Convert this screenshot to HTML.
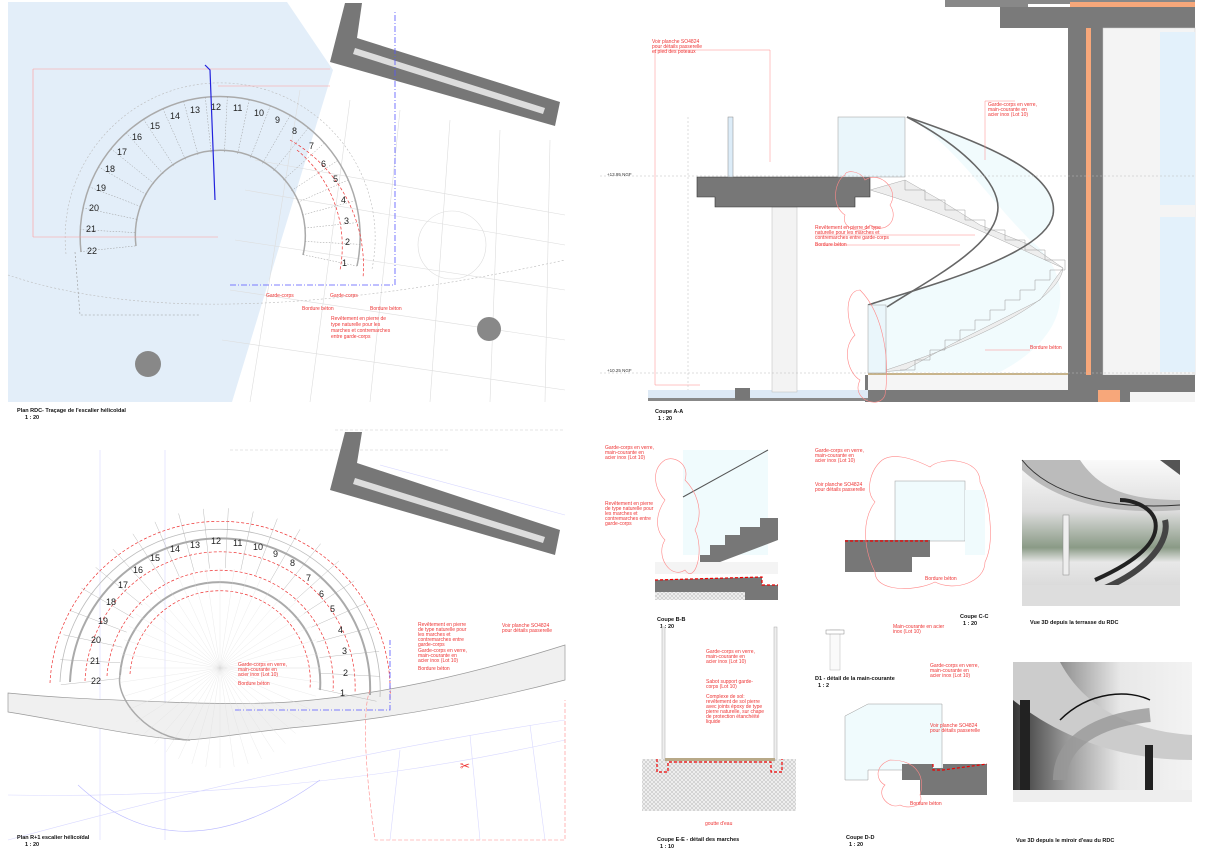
<!DOCTYPE html>
<html><head><meta charset="utf-8"><style>
html,body{margin:0;padding:0;background:#fff;}
svg{display:block;font-family:"Liberation Sans",sans-serif;}
.t{font-size:5px;fill:#e33;}
.n{font-size:9px;fill:#222;}
.cap{font-size:5.5px;font-weight:bold;fill:#111;}
</style></head><body>
<svg id="s" width="1207" height="863" viewBox="0 0 1207 863" xmlns="http://www.w3.org/2000/svg">
<defs>
<pattern id="hat" width="4" height="4" patternUnits="userSpaceOnUse"><rect width="4" height="4" fill="#eee"/><path d="M0 4L4 0M0 0L4 4" stroke="#bbb" stroke-width="0.5"/></pattern>
<linearGradient id="r1" x1="0" y1="0" x2="0" y2="1"><stop offset="0" stop-color="#fafafa"/><stop offset="0.35" stop-color="#ddd"/><stop offset="0.6" stop-color="#8a9a86"/><stop offset="0.7" stop-color="#e8e8e8"/><stop offset="1" stop-color="#cfcfcf"/></linearGradient>
<linearGradient id="r2" x1="0" y1="0" x2="1" y2="0"><stop offset="0" stop-color="#333"/><stop offset="0.3" stop-color="#999"/><stop offset="0.6" stop-color="#e8e8e8"/><stop offset="1" stop-color="#f3f3f3"/></linearGradient>
</defs>

<!-- ===== TOP LEFT PLAN ===== -->
<polygon points="8,2 287,2 333,70 232,402 8,402" fill="#e3eef9"/>
<g stroke="#ddd" stroke-width="0.6" fill="none">
<path d="M255,160 L565,215 M245,190 L565,245 M235,240 L565,290 M230,290 L565,340 M222,340 L565,390"/>
<path d="M300,90 L250,402 M350,100 L310,402 M400,110 L370,402 M450,120 L430,402 M500,130 L490,402 M550,140 L545,402"/>
</g>
<polygon points="345,3 362,3 357,38 560,102 555,126 330,62" fill="#777"/>
<polygon points="355,48 545,108 543,114 353,54" fill="#ddd"/>
<circle cx="148" cy="364" r="13" fill="#888"/>
<circle cx="489" cy="329" r="12" fill="#888"/>
<circle cx="452" cy="245" r="34" fill="none" stroke="#ddd" stroke-width="0.6"/>
<path d="M8,275 Q200,340 565,260" stroke="#bbb" stroke-dasharray="2,2" fill="none" stroke-width="0.6"/>
<g fill="none">
<path d="M81,252 A140 140 0 1 1 357,266" stroke="#aaa" stroke-width="1.5"/>
<path d="M66,254 A155 155 0 1 1 372,269" stroke="#bbb" stroke-dasharray="2,2" stroke-width="0.6"/>
<path d="M136,246 A85 85 0 1 1 303,255" stroke="#aaa" stroke-width="1.5"/>
<path d="M75,252 L80,315 L200,315" stroke="#999" stroke-dasharray="2,2" stroke-width="0.6"/>
<path d="M297,150 A125 125 0 0 1 340,270 M290,140 A145 145 0 0 1 363,278" stroke="#e33" stroke-dasharray="3,2" stroke-width="0.7"/>
<path d="M33,69 L330,69 M33,69 L33,237 M33,237 L218,237 M218,86 L330,86" stroke="#f99" stroke-width="0.6"/>
<path d="M230,285 L395,285 L395,10" stroke="#55f" stroke-dasharray="6,2,1,2" stroke-width="0.8"/>
<path d="M205,65 L210,70 L215,200" stroke="#22d" stroke-width="1.2"/>
</g>
<g id="rad1" stroke="#999" stroke-width="0.5" stroke-dasharray="1.5,1.5"></g>
<g class="n">
<text x="211" y="110">12</text><text x="233" y="111">11</text><text x="254" y="116">10</text><text x="275" y="123">9</text><text x="292" y="134">8</text><text x="309" y="149">7</text><text x="321" y="167">6</text><text x="333" y="182">5</text><text x="341" y="203">4</text><text x="344" y="224">3</text><text x="345" y="245">2</text><text x="342" y="266">1</text>
<text x="190" y="113">13</text><text x="170" y="119">14</text><text x="150" y="129">15</text><text x="132" y="140">16</text><text x="117" y="155">17</text><text x="105" y="172">18</text><text x="96" y="191">19</text><text x="89" y="211">20</text><text x="86" y="232">21</text><text x="87" y="254">22</text>
</g>
<g class="t"><text x="266" y="297">Garde-corps</text><text x="330" y="297">Garde-corps</text><text x="302" y="310">Bordure béton</text><text x="370" y="310">Bordure béton</text><text x="331" y="320">Revêtement en pierre de</text><text x="331" y="326">type naturelle pour les</text><text x="331" y="332">marches et contremarches</text><text x="331" y="338">entre garde-corps</text></g>
<text class="cap" x="17" y="412">Plan RDC- Traçage de l'escalier hélicoïdal</text>
<text class="cap" x="25" y="419">1 : 20</text>

<!-- ===== TOP RIGHT SECTION ===== -->
<rect x="945" y="0" width="250" height="7" fill="#888"/>
<rect x="1070" y="2" width="125" height="6" fill="#f7a77a"/>
<rect x="1000" y="7" width="195" height="21" fill="#7a7a7a"/>
<rect x="1028" y="4" width="42" height="3" fill="#fff"/>
<rect x="1068" y="28" width="35" height="372" fill="#7a7a7a"/>
<rect x="1086" y="28" width="5" height="348" fill="#f7a77a"/>
<rect x="1103" y="28" width="92" height="347" fill="#f4f4f4" stroke="#ccc" stroke-width="0.5"/>
<rect x="1160" y="32" width="35" height="340" fill="#e3f1fb"/>
<rect x="1160" y="205" width="35" height="12" fill="#f4f4f4"/>
<rect x="865" y="375" width="330" height="27" fill="#7a7a7a"/>
<rect x="868" y="373" width="200" height="2" fill="#c8b48a"/>
<rect x="868" y="375" width="200" height="15" fill="#f5f5f5"/>
<rect x="1098" y="390" width="22" height="12" fill="#f7a77a"/>
<rect x="1130" y="392" width="65" height="10" fill="#f4f4f4"/>
<rect x="648" y="390" width="220" height="10" fill="#dde9f5"/>
<rect x="648" y="398" width="220" height="3" fill="#888"/>
<rect x="735" y="388" width="15" height="12" fill="#777"/>
<rect x="772" y="207" width="25" height="185" fill="#f3f3f3" stroke="#bbb" stroke-width="0.5"/>
<polygon points="697,177 870,177 870,197 855,197 855,207 715,207 715,197 697,197" fill="#777" stroke="#333" stroke-width="0.6"/>
<rect x="728" y="117" width="5" height="60" fill="#dcecf8" stroke="#888" stroke-width="0.5"/>
<rect x="838" y="117" width="67" height="60" fill="#eaf6fb" stroke="#999" stroke-width="0.5"/>
<path d="M907,117 C990,145 1060,175 1053,215 C1045,255 930,285 868,305 L880,372 L1000,372 C1080,330 1070,270 1030,240 C990,200 950,140 907,117 Z" fill="#f0fbfd" opacity="0.9"/>
<path d="M870,190 L905,180 L940,200 L980,225 L1030,245 L1063,268 L1040,300 L1000,320 L950,345 L905,370 L880,372 C980,340 1060,300 1063,268 C1000,240 940,210 870,190Z" fill="#eee" stroke="#aaa" stroke-width="0.5"/>
<g id="steps" fill="none" stroke="#999" stroke-width="0.5"></g>
<path d="M907,117 C990,145 1060,175 1053,215 C1045,255 930,285 868,305" stroke="#666" stroke-width="1.6" fill="none"/>
<path d="M907,117 C960,145 1005,185 997,215 C990,250 920,285 887,307" stroke="#666" stroke-width="1.6" fill="none"/>
<rect x="868" y="305" width="18" height="68" fill="#eaf6fb" stroke="#999" stroke-width="0.5"/>
<g stroke="#f88" stroke-width="0.5" fill="none">
<path d="M655,50 L655,385 L700,385 M655,50 L770,50 L770,162"/>
<path d="M688,117 L688,390 M600,176 L1195,176 M600,373 L1195,373" stroke-dasharray="2,2" stroke="#bbb"/>
<path d="M985,101 L985,160 M985,101 L1015,101 M985,350 L1030,350 M815,235 L975,235 M815,245 L960,245"/>
</g>
<path d="M845,175 c-10,5 -15,30 0,40 c-5,15 20,20 25,10 c15,10 30,-5 20,-20 c10,-15 -10,-35 -25,-25 c-5,-10 -20,-10 -20,-5Z M860,290 c-15,0 -15,30 -5,45 c-15,15 -5,40 5,45 c-10,20 20,30 25,15 c5,-30 0,-80 -25,-105Z" fill="none" stroke="#f88" stroke-width="0.6"/>
<g class="t"><text x="652" y="43">Voir planche SO4824</text><text x="652" y="48">pour détails passerelle</text><text x="652" y="53">et pied des poteaux</text>
<text x="988" y="106">Garde-corps en verre,</text><text x="988" y="111">main-courante en</text><text x="988" y="116">acier inox (Lot 10)</text>
<text x="815" y="229">Revêtement en pierre de type</text><text x="815" y="234">naturelle pour les marches et</text><text x="815" y="239">contremarches entre garde-corps</text>
<text x="815" y="246">Bordure béton</text><text x="1030" y="349">Bordure béton</text></g>
<text x="607" y="176" font-size="4.5" fill="#333">+13.95 NGF</text><text x="607" y="372" font-size="4.5" fill="#333">+10.25 NGF</text>
<text class="cap" x="655" y="413">Coupe A-A</text><text class="cap" x="658" y="420">1 : 20</text>

<!-- ===== BOTTOM LEFT PLAN ===== -->
<g stroke="#d8d8ff" stroke-width="0.6" fill="none">
<path d="M8,840 Q300,760 565,720 M8,795 Q300,800 565,740 M380,465 L565,515"/>
<path d="M100,450 L100,840 M165,450 L165,840 M400,750 L390,840 M470,735 L480,840 M530,725 L545,840"/>
<path d="M335,430 L565,430 M230,450 L450,450" stroke="#ccc" stroke-dasharray="3,2"/>
</g>
<polygon points="345,432 362,432 357,463 560,530 555,555 330,490" fill="#777"/>
<polygon points="355,478 545,537 543,543 353,484" fill="#ddd"/>
<path d="M8,693 C80,700 130,700 165,702 C190,703 240,705 290,702 C380,695 470,675 565,645 L565,680 C470,705 380,720 290,728 C230,735 200,740 185,740 C140,738 60,720 8,712 Z" fill="#f0f0f0" stroke="#999" stroke-width="0.7"/>
<path d="M78,785 Q180,880 320,780" stroke="#bbf" fill="none" stroke-width="0.6"/>
<g fill="none">
<path d="M70,682 A150 150 0 1 1 370,695" stroke="#aaa" stroke-width="2"/>
<path d="M60,682 A160 160 0 1 1 380,697" stroke="#bbb" stroke-width="0.8"/>
<path d="M50,683 A170 170 0 1 1 390,700" stroke="#e33" stroke-dasharray="3,2" stroke-width="0.7"/>
<path d="M85,681 A135 135 0 1 1 355,693" stroke="#e33" stroke-dasharray="3,2" stroke-width="0.7"/>
<path d="M120,675 A100 100 0 1 1 320,690" stroke="#aaa" stroke-width="2"/>
<path d="M130,674 A90 90 0 1 1 310,688" stroke="#e33" stroke-dasharray="3,2" stroke-width="0.7"/>
<path d="M107,676 A113 113 0 1 1 333,691" stroke="#e33" stroke-dasharray="3,2" stroke-width="0.7"/>
<path d="M120,675 C115,700 150,740 190,740" stroke="#aaa" stroke-width="1.5"/>
<path d="M235,710 L390,710 L390,640" stroke="#55f" stroke-dasharray="6,2,1,2" stroke-width="0.8"/>
<path d="M370,690 c-8,20 -5,80 5,150 L565,840 L565,700" stroke="#f88" stroke-width="0.6" stroke-dasharray="4,2"/>
</g>
<g id="rad2" stroke="#aaa" stroke-width="0.4"></g>
<g id="rad3" stroke="#ddd" stroke-width="0.3"></g>
<g class="n">
<text x="211" y="544">12</text><text x="233" y="546">11</text><text x="253" y="550">10</text><text x="273" y="557">9</text><text x="290" y="566">8</text><text x="306" y="581">7</text><text x="319" y="597">6</text><text x="330" y="612">5</text><text x="338" y="633">4</text><text x="342" y="654">3</text><text x="343" y="676">2</text><text x="340" y="696">1</text>
<text x="190" y="548">13</text><text x="170" y="552">14</text><text x="150" y="561">15</text><text x="133" y="573">16</text><text x="118" y="588">17</text><text x="106" y="605">18</text><text x="98" y="624">19</text><text x="91" y="643">20</text><text x="90" y="664">21</text><text x="91" y="684">22</text>
</g>
<g class="t"><text x="418" y="626">Revêtement en pierre</text><text x="418" y="631">de type naturelle pour</text><text x="418" y="636">les marches et</text><text x="418" y="641">contremarches entre</text><text x="418" y="646">garde-corps</text>
<text x="418" y="652">Garde-corps en verre,</text><text x="418" y="657">main-courante en</text><text x="418" y="662">acier inox (Lot 10)</text><text x="418" y="670">Bordure béton</text>
<text x="238" y="666">Garde-corps en verre,</text><text x="238" y="671">main-courante en</text><text x="238" y="676">acier inox (Lot 10)</text><text x="238" y="685">Bordure béton</text>
<text x="502" y="627">Voir planche SO4824</text><text x="502" y="632">pour détails passerelle</text></g>
<text x="460" y="770" font-size="12" fill="#e33">✂</text>
<text class="cap" x="17" y="839">Plan R+1 escalier hélicoïdal</text><text class="cap" x="25" y="846">1 : 20</text>

<!-- ===== COUPE B-B ===== -->
<rect x="683" y="450" width="85" height="105" fill="#f0fbfd"/>
<path d="M683,497 L768,450" stroke="#555" stroke-width="1"/>
<polygon points="700,562 700,555 710,555 710,545 725,545 725,535 740,535 740,527 760,527 760,518 778,518 778,540 720,562" fill="#777"/>
<rect x="655" y="562" width="123" height="12" fill="#f4f4f4"/>
<polygon points="655,580 762,577 762,585 778,585 778,600 655,600" fill="#777"/>
<path d="M655,580 L762,577 L762,585 L778,585" stroke="#e00" stroke-width="1.2" stroke-dasharray="3,2" fill="none"/>
<rect x="655" y="592" width="90" height="8" fill="url(#hat)"/>
<path d="M665,460 c-15,10 -10,30 0,40 c-10,15 -10,30 0,40 c-10,15 5,40 20,30 c10,15 20,-20 10,-40 c10,-20 0,-40 -10,-50 c5,-15 -10,-25 -20,-20Z" fill="none" stroke="#f88" stroke-width="0.6"/>
<g class="t"><text x="605" y="449">Garde-corps en verre,</text><text x="605" y="454">main-courante en</text><text x="605" y="459">acier inox (Lot 10)</text>
<text x="605" y="505">Revêtement en pierre</text><text x="605" y="510">de type naturelle pour</text><text x="605" y="515">les marches et</text><text x="605" y="520">contremarches entre</text><text x="605" y="525">garde-corps</text></g>
<text class="cap" x="657" y="621">Coupe B-B</text><text class="cap" x="660" y="628">1 : 20</text>

<!-- ===== COUPE C-C ===== -->
<rect x="895" y="481" width="70" height="60" fill="#f0fbfd" stroke="#999" stroke-width="0.5"/>
<rect x="965" y="490" width="20" height="65" fill="#f0fbfd"/>
<polygon points="845,540 930,540 930,557 912,557 912,572 845,572" fill="#777"/>
<path d="M845,541 L930,541" stroke="#e00" stroke-width="1.2" stroke-dasharray="3,2"/>
<path d="M880,462 c-10,10 -15,30 -5,40 c-15,20 -10,50 0,70 c0,20 40,20 60,10 c20,10 50,0 50,-20 c10,-20 5,-60 -5,-80 c0,-25 -40,-25 -50,-15 c-20,-10 -40,-15 -50,-5Z" fill="none" stroke="#f88" stroke-width="0.6"/>
<g class="t"><text x="815" y="452">Garde-corps en verre,</text><text x="815" y="457">main-courante en</text><text x="815" y="462">acier inox (Lot 10)</text><text x="815" y="486">Voir planche SO4824</text><text x="815" y="491">pour détails passerelle</text><text x="925" y="580">Bordure béton</text></g>
<text class="cap" x="960" y="618">Coupe C-C</text><text class="cap" x="963" y="625">1 : 20</text>

<!-- ===== D1 ===== -->
<rect x="830" y="630" width="10" height="40" fill="#fafafa" stroke="#bbb" stroke-width="0.5"/>
<rect x="826" y="630" width="18" height="4" fill="#fff" stroke="#888" stroke-width="0.5"/>
<g class="t"><text x="893" y="628">Main-courante en acier</text><text x="893" y="633">inox (Lot 10)</text></g>
<text class="cap" x="815" y="680">D1 - détail de la main-courante</text><text class="cap" x="818" y="687">1 : 2</text>

<!-- ===== COUPE E-E ===== -->
<rect x="662" y="627" width="3" height="133" fill="#eee" stroke="#aaa" stroke-width="0.5"/>
<rect x="774" y="627" width="3" height="133" fill="#eee" stroke="#aaa" stroke-width="0.5"/>
<rect x="642" y="759" width="154" height="52" fill="url(#hat)"/>
<rect x="665" y="758" width="110" height="3" fill="#b8a988"/>
<path d="M657,759 L657,772 L668,772 L668,762 L771,762 L771,772 L782,772 L782,759" stroke="#e00" stroke-width="1.2" stroke-dasharray="3,2" fill="none"/>
<g class="t"><text x="706" y="653">Garde-corps en verre,</text><text x="706" y="658">main-courante en</text><text x="706" y="663">acier inox (Lot 10)</text><text x="706" y="683">Sabot support garde-</text><text x="706" y="688">corps (Lot 10)</text><text x="706" y="698">Complexe de sol:</text><text x="706" y="703">revêtement de sol pierre</text><text x="706" y="708">avec joints époxy de type</text><text x="706" y="713">pierre naturelle, sur chape</text><text x="706" y="718">de protection étanchéité</text><text x="706" y="723">liquide</text><text x="705" y="825">goutte d'eau</text></g>
<text class="cap" x="657" y="841">Coupe E-E - détail des marches</text><text class="cap" x="660" y="848">1 : 10</text>

<!-- ===== COUPE D-D ===== -->
<polygon points="845,716 868,704 942,704 942,770 868,770 868,780 845,780" fill="#f0fbfd" stroke="#999" stroke-width="0.5"/>
<polygon points="902,764 933,764 933,768 943,768 943,764 987,764 987,795 920,795 920,780 902,780" fill="#777"/>
<path d="M933,764 L933,770 L943,770 L987,764" stroke="#e00" stroke-width="1.2" stroke-dasharray="3,2" fill="none"/>
<path d="M890,760 c-15,5 -15,20 -5,25 c-10,10 5,25 15,20 c10,5 25,0 20,-10 c5,-15 0,-35 -30,-35Z" fill="none" stroke="#f88" stroke-width="0.6"/>
<g class="t"><text x="930" y="667">Garde-corps en verre,</text><text x="930" y="672">main-courante en</text><text x="930" y="677">acier inox (Lot 10)</text><text x="930" y="727">Voir planche SO4824</text><text x="930" y="732">pour détails passerelle</text><text x="910" y="805">Bordure béton</text></g>
<text class="cap" x="846" y="839">Coupe D-D</text><text class="cap" x="849" y="846">1 : 20</text>

<!-- ===== 3D VIEWS ===== -->
<rect x="1022" y="460" width="158" height="146" fill="url(#r1)"/>
<path d="M1022,460 L1080,460 C1100,490 1130,500 1180,500 L1180,510 C1120,515 1060,505 1022,470Z" fill="#bbb"/>
<path d="M1022,460 C1050,495 1110,510 1180,505" stroke="#333" fill="none" stroke-width="1"/>
<rect x="1063" y="515" width="6" height="60" fill="#eee" stroke="#888" stroke-width="0.5"/>
<path d="M1095,580 C1140,560 1160,540 1155,520 C1150,505 1130,500 1120,500" stroke="#222" stroke-width="4" fill="none"/>
<path d="M1100,590 C1150,570 1170,540 1165,520" stroke="#444" stroke-width="6" fill="none"/>
<path d="M1160,460 L1180,460 L1180,475Z" fill="#555"/>
<rect x="1022" y="585" width="158" height="21" fill="#ddd"/>
<text class="cap" x="1030" y="624">Vue 3D depuis la terrasse du RDC</text>
<rect x="1013" y="662" width="179" height="140" fill="url(#r2)"/>
<path d="M1013,662 L1060,662 C1080,700 1120,730 1192,735 L1192,760 C1110,760 1050,730 1013,700Z" fill="#ccc"/>
<rect x="1020" y="700" width="10" height="95" fill="#222"/>
<rect x="1145" y="745" width="8" height="50" fill="#222"/>
<path d="M1060,720 C1090,690 1130,690 1150,700" stroke="#111" stroke-width="1.5" fill="none"/>
<path d="M1060,780 C1060,740 1100,720 1150,715" stroke="#999" stroke-width="14" fill="none" opacity="0.8"/>
<rect x="1013" y="790" width="179" height="12" fill="#eee"/>
<text class="cap" x="1016" y="842">Vue 3D  depuis le miroir d'eau du RDC</text>
</svg>
<script>
var ns="http://www.w3.org/2000/svg";
function rad(id,cx,cy,r1,r2,a0,a1,n){var g=document.getElementById(id);for(var i=0;i<=n;i++){var a=(a0+(a1-a0)*i/n)*Math.PI/180;var l=document.createElementNS(ns,"line");l.setAttribute("x1",cx+r1*Math.cos(a));l.setAttribute("y1",cy+r1*Math.sin(a));l.setAttribute("x2",cx+r2*Math.cos(a));l.setAttribute("y2",cy+r2*Math.sin(a));g.appendChild(l);}}
rad("rad1",220,237,85,140,174,372,22);
rad("rad2",220,668,100,160,174,372,22);
rad("rad3",220,668,0,100,0,360,44);
var st=document.getElementById("steps");
var d="M905,180";var x=905,y=180;
for(var i=0;i<8;i++){y+=10;d+=" L"+x+","+y;x+=20;d+=" L"+x+","+y;}
for(var i=0;i<11;i++){y+=10;d+=" L"+x+","+y;x-=15;d+=" L"+x+","+y;}
var p=document.createElementNS(ns,"path");p.setAttribute("d",d);st.appendChild(p);
</script>
</body></html>
